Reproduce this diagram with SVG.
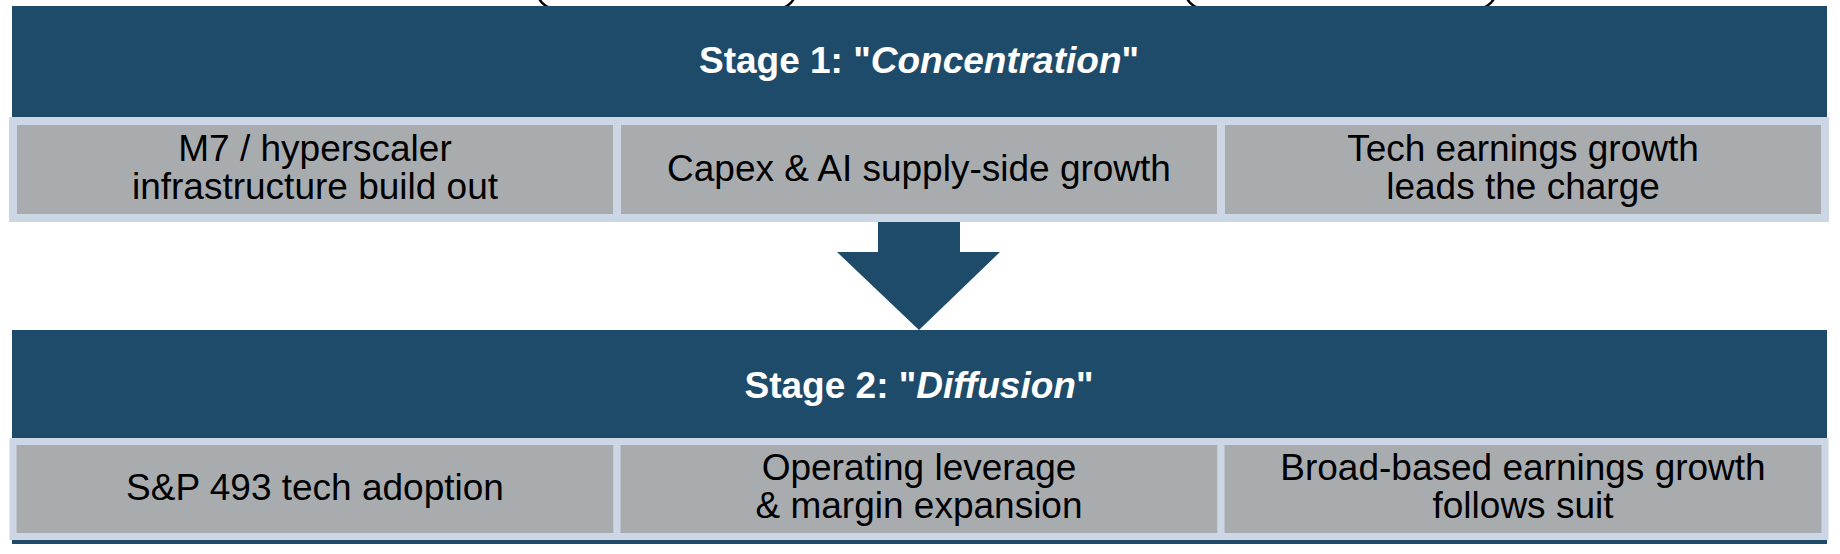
<svg xmlns="http://www.w3.org/2000/svg" width="1840" height="554" viewBox="0 0 1840 554">
  <style>
    .banner { fill: #1f4b6b; }
    .cell { fill: #a9acaf; stroke: #cdd6e4; stroke-width: 8; }
    .title { font-family: "Liberation Sans", Arial, sans-serif; font-size: 37px; font-weight: bold; fill: #ffffff; text-anchor: middle; }
    .label { font-family: "Liberation Sans", Arial, sans-serif; font-size: 37px; fill: #000000; text-anchor: middle; }
    .bracket { fill: none; stroke: #000000; stroke-width: 2.5; }
  </style>
  <rect width="1840" height="554" fill="#ffffff"/>

  <g id="top-shapes">
    <rect class="bracket" x="536.6" y="-60" width="259.8" height="69" rx="20" ry="20"/>
    <rect class="bracket" x="1184.6" y="-60" width="311.8" height="69" rx="20" ry="20"/>
  </g>

  <g id="stage1">
    <rect class="banner" x="12" y="6" width="1815" height="115"/>
    <text class="title" x="919" y="73">Stage 1: "<tspan font-style="italic">Concentration</tspan>"</text>
  </g>

  <g id="stage1-cell1">
    <rect class="cell" x="13" y="121" width="604" height="97"/>
    <text class="label" x="315" y="161">M7 / hyperscaler</text>
    <text class="label" x="315" y="199">infrastructure build out</text>
  </g>
  <g id="stage1-cell2">
    <rect class="cell" x="617" y="121" width="604" height="97"/>
    <text class="label" x="919" y="181">Capex &amp; AI supply-side growth</text>
  </g>
  <g id="stage1-cell3">
    <rect class="cell" x="1221" y="121" width="604" height="97"/>
    <text class="label" x="1523" y="161">Tech earnings growth</text>
    <text class="label" x="1523" y="199">leads the charge</text>
  </g>

  <g id="connectors">
    <polygon class="banner" points="878,222 960,222 960,252 1000,252 919,330 837,252 878,252"/>
  </g>

  <g id="stage2">
    <rect class="banner" x="12" y="330" width="1815" height="214"/>
    <text class="title" x="919" y="398">Stage 2: "<tspan font-style="italic">Diffusion</tspan>"</text>
  </g>

  <g id="stage2-cell1">
    <rect class="cell" x="13" y="441.5" width="604" height="95" style="stroke-width:7"/>
    <text class="label" x="315" y="500">S&amp;P 493 tech adoption</text>
  </g>
  <g id="stage2-cell2">
    <rect class="cell" x="617" y="441.5" width="604" height="95" style="stroke-width:7"/>
    <text class="label" x="919" y="480">Operating leverage</text>
    <text class="label" x="919" y="518">&amp; margin expansion</text>
  </g>
  <g id="stage2-cell3">
    <rect class="cell" x="1221" y="441.5" width="604" height="95" style="stroke-width:7"/>
    <text class="label" x="1523" y="480">Broad-based earnings growth</text>
    <text class="label" x="1523" y="518">follows suit</text>
  </g>
</svg>
